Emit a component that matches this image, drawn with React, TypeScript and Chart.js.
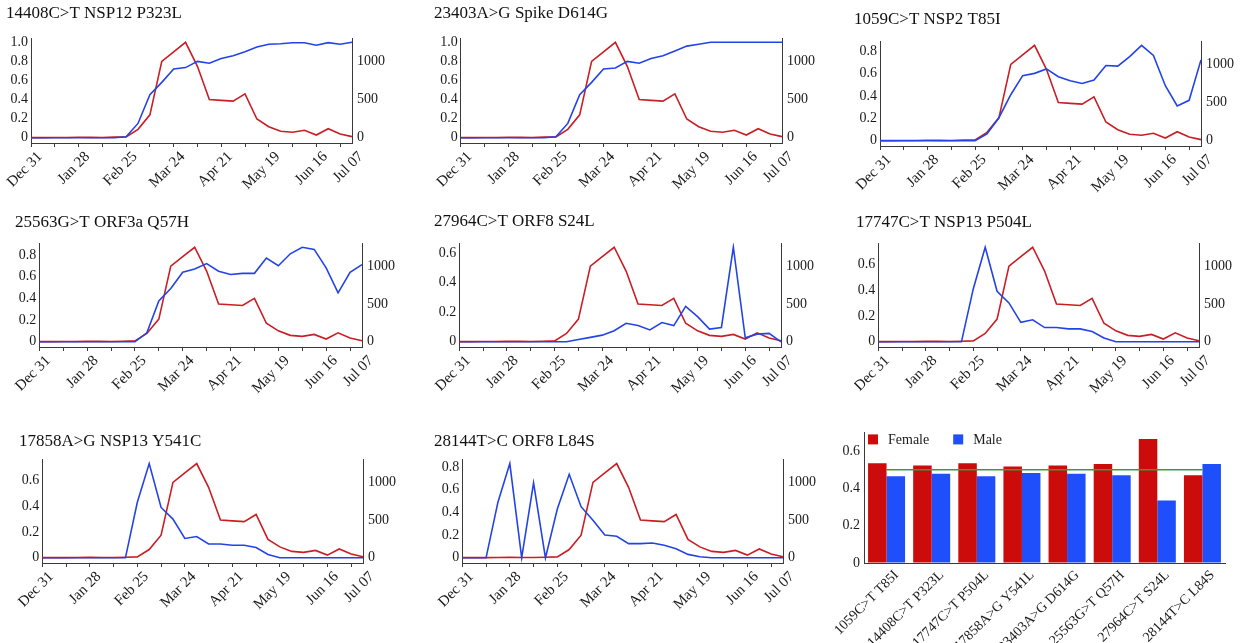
import React, { useEffect, useRef } from "react";
import { Chart, registerables } from "chart.js";
Chart.register(...registerables);

// ---------- data ----------
const WEEKS = [
  "Dec 31", "Jan 07", "Jan 14", "Jan 21", "Jan 28", "Feb 04", "Feb 11", "Feb 18",
  "Feb 25", "Mar 03", "Mar 10", "Mar 17", "Mar 24", "Mar 31", "Apr 07", "Apr 14",
  "Apr 21", "Apr 28", "May 05", "May 12", "May 19", "May 26", "Jun 02", "Jun 09",
  "Jun 16", "Jun 23", "Jun 30", "Jul 07",
];
const SHOWN_WEEK_LABELS = ["Dec 31", "Jan 28", "Feb 25", "Mar 24", "Apr 21", "May 19", "Jun 16", "Jul 07"];

// weekly number of sequences (right axis, red)
const CASE_COUNTS = [
  2, 2, 3, 4, 6, 5, 4, 8, 12, 110, 300, 1000, 1125, 1250, 935, 500,
  490, 480, 575, 245, 145, 85, 72, 98, 36, 118, 50, 15,
];

// weekly mutation frequency (left axis, blue)
const FREQ_14408 = [0, 0, 0, 0, 0, 0, 0, 0, 0.01, 0.15, 0.45, 0.58, 0.72, 0.735, 0.8, 0.78, 0.83, 0.86, 0.9, 0.95, 0.98, 0.985, 0.996, 0.996, 0.97, 0.996, 0.98, 1.0];
const FREQ_23403 = [0, 0, 0, 0, 0, 0, 0, 0, 0.01, 0.15, 0.45, 0.58, 0.72, 0.73, 0.8, 0.78, 0.83, 0.86, 0.91, 0.96, 0.98, 1.0, 1.0, 1.0, 1.0, 1.0, 1.0, 1.0];
const FREQ_1059 = [0, 0, 0, 0, 0, 0, 0, 0, 0, 0.06, 0.205, 0.41, 0.58, 0.6, 0.64, 0.57, 0.535, 0.51, 0.54, 0.67, 0.665, 0.75, 0.85, 0.76, 0.49, 0.31, 0.36, 0.72];
const FREQ_25563 = [0, 0, 0, 0, 0, 0, 0, 0, 0, 0.083, 0.375, 0.49, 0.64, 0.67, 0.72, 0.65, 0.62, 0.63, 0.63, 0.77, 0.7, 0.81, 0.87, 0.85, 0.68, 0.45, 0.64, 0.71];
const FREQ_27964 = [0, 0, 0, 0, 0, 0, 0, 0, 0, 0, 0.016, 0.03, 0.045, 0.075, 0.125, 0.11, 0.08, 0.13, 0.11, 0.24, 0.17, 0.086, 0.097, 0.64, 0.027, 0.052, 0.057, 0];
const FREQ_17747 = [0, 0, 0, 0, 0, 0, 0, 0, 0.41, 0.73, 0.39, 0.3, 0.15, 0.17, 0.11, 0.11, 0.1, 0.1, 0.08, 0.03, 0, 0, 0, 0, 0, 0, 0, 0];
const FREQ_17858 = [0, 0, 0, 0, 0, 0, 0, 0, 0.43, 0.73, 0.39, 0.3, 0.15, 0.165, 0.107, 0.107, 0.097, 0.097, 0.08, 0.026, 0, 0, 0, 0, 0, 0, 0, 0];
const FREQ_28144 = [0, 0, 0, 0.49, 0.83, 0, 0.66, 0, 0.43, 0.735, 0.45, 0.33, 0.2, 0.19, 0.125, 0.125, 0.13, 0.11, 0.08, 0.03, 0.01, 0, 0, 0, 0, 0, 0, 0];

const LEFT_TICKS_10 = [0, 0.2, 0.4, 0.6, 0.8, 1.0];
const LEFT_TICKS_08 = [0, 0.2, 0.4, 0.6, 0.8];
const LEFT_TICKS_06 = [0, 0.2, 0.4, 0.6];
const RIGHT_TICKS = [0, 500, 1000];

const BAR_CATEGORIES = [
  "1059C>T T85I", "14408C>T P323L", "17747C>T P504L", "17858A>G Y541L",
  "23403A>G D614G", "25563G>T Q57H", "27964C>T S24L", "28144T>C L84S",
];
const FEMALE_SHARE = [0.535, 0.522, 0.535, 0.517, 0.522, 0.53, 0.665, 0.47];
const MALE_SHARE = [0.465, 0.478, 0.465, 0.483, 0.478, 0.47, 0.335, 0.53];
const PARITY_LINE = [0.5, 0.5, 0.5, 0.5, 0.5, 0.5, 0.5, 0.5];
const BAR_TICKS = [0, 0.2, 0.4, 0.6];

// ---------- styles ----------
const FONT = '"Liberation Serif", "Times New Roman", serif';
const RED = "#c81e24";
const BLUE = "#2443e6";
const AXIS = "#3a3a3a";
const TEXT = "#1a1a1a";
const BAR_RED = "#cc0b0b";
const BAR_BLUE = "#1f4ffb";
const GREEN = "#3c9a3c";

type PanelSpec = {
  title: string;
  freq: number[];
  leftTicks: number[];
  titleLeft: number;
  capTop: number;
  axisLeft: number;
  axisRight: number;
  plotTop: number;
  plotBottom: number;
};

const PANELS: PanelSpec[] = [
  { title: "14408C>T NSP12 P323L", freq: FREQ_14408, leftTicks: LEFT_TICKS_10, titleLeft: 7, capTop: 8.3, axisLeft: 31, axisRight: 352, plotTop: 38, plotBottom: 143 },
  { title: "23403A>G Spike D614G", freq: FREQ_23403, leftTicks: LEFT_TICKS_10, titleLeft: 435, capTop: 8.3, axisLeft: 460.7, axisRight: 781.7, plotTop: 38, plotBottom: 143 },
  { title: "1059C>T NSP2 T85I", freq: FREQ_1059, leftTicks: LEFT_TICKS_08, titleLeft: 855, capTop: 14, axisLeft: 880, axisRight: 1201, plotTop: 41, plotBottom: 146 },
  { title: "25563G>T ORF3a Q57H", freq: FREQ_25563, leftTicks: LEFT_TICKS_08, titleLeft: 16, capTop: 216.7, axisLeft: 39.3, axisRight: 361.7, plotTop: 243, plotBottom: 346.7 },
  { title: "27964C>T ORF8 S24L", freq: FREQ_27964, leftTicks: LEFT_TICKS_06, titleLeft: 435, capTop: 215.5, axisLeft: 459.3, axisRight: 781, plotTop: 243, plotBottom: 346.7 },
  { title: "17747C>T NSP13 P504L", freq: FREQ_17747, leftTicks: LEFT_TICKS_06, titleLeft: 856.7, capTop: 216.7, axisLeft: 878.3, axisRight: 1199.3, plotTop: 243, plotBottom: 346.7 },
  { title: "17858A>G NSP13 Y541C", freq: FREQ_17858, leftTicks: LEFT_TICKS_06, titleLeft: 20, capTop: 435.5, axisLeft: 42.3, axisRight: 363.3, plotTop: 459.3, plotBottom: 563.3 },
  { title: "28144T>C ORF8 L84S", freq: FREQ_28144, leftTicks: LEFT_TICKS_08, titleLeft: 435, capTop: 435.5, axisLeft: 462.3, axisRight: 783.3, plotTop: 459.3, plotBottom: 563.3 },
];

const X_AXIS_H = 48;
const RIGHT_AXIS_W = 45;

function LinePanel({ p }: { p: PanelSpec }) {
  const ref = useRef<HTMLCanvasElement>(null);
  const canvasLeft = Math.round(p.titleLeft - 3);
  const canvasTop = Math.round(p.capTop - 8);
  const width = Math.round(p.axisRight + RIGHT_AXIS_W - canvasLeft);
  const height = Math.round(p.plotBottom + X_AXIS_H - canvasTop);

  useEffect(() => {
    const bMax = Math.max(...p.freq);
    const rMax = Math.max(...CASE_COUNTS);
    const leftW = p.axisLeft - canvasLeft - 2;
    const padBottom = p.plotTop - canvasTop - 3.3 - 20.4;
    const tickFont = { family: FONT, size: 14 };
    const chart = new Chart(ref.current as HTMLCanvasElement, {
      type: "line",
      data: {
        labels: WEEKS,
        datasets: [
          {
            label: "Frequency",
            data: p.freq,
            yAxisID: "yL",
            borderColor: BLUE,
            borderWidth: 1.6,
            pointRadius: 0,
            tension: 0,
            fill: false,
          },
          {
            label: "Sequences",
            data: CASE_COUNTS,
            yAxisID: "yR",
            borderColor: RED,
            borderWidth: 1.6,
            pointRadius: 0,
            tension: 0,
            fill: false,
          },
        ],
      },
      options: {
        animation: false,
        responsive: false,
        maintainAspectRatio: false,
        events: [],
        layout: { padding: { left: 2, right: 0, top: 0, bottom: 0 } },
        plugins: {
          legend: { display: false },
          tooltip: { enabled: false },
          title: {
            display: true,
            text: p.title,
            align: "start",
            color: "#111",
            font: { family: FONT, size: 17, weight: "normal" },
            padding: { top: 3.3, bottom: padBottom },
          },
        },
        scales: {
          x: {
            type: "category",
            offset: false,
            grid: {
              display: true,
              drawOnChartArea: false,
              drawTicks: true,
              tickLength: 4,
              tickColor: (c: any) => (c.index % 2 === 0 ? AXIS : "rgba(0,0,0,0)"),
            },
            border: { display: true, color: AXIS, width: 1 },
            ticks: {
              autoSkip: false,
              maxRotation: 45,
              minRotation: 45,
              padding: 1,
              labelOffset: 9,
              color: TEXT,
              font: { family: FONT, size: 15 },
              callback: (_v: any, i: number) => (SHOWN_WEEK_LABELS.includes(WEEKS[i]) ? WEEKS[i] : ""),
            },
            afterFit: (s: any) => {
              s.height = X_AXIS_H;
              s.paddingLeft = 0;
              s.paddingRight = 0;
            },
          },
          yL: {
            type: "linear",
            position: "left",
            min: -0.055 * bMax,
            max: 1.045 * bMax,
            grid: { display: true, drawOnChartArea: false, drawTicks: false },
            border: { display: true, color: AXIS, width: 1 },
            ticks: {
              padding: 3,
              color: TEXT,
              font: tickFont,
              callback: (v: any) => (Number(v) === 0 ? "0" : Number(v).toFixed(1)),
            },
            afterBuildTicks: (s: any) => {
              s.ticks = p.leftTicks.map((v) => ({ value: v }));
            },
            afterFit: (s: any) => {
              s.width = leftW;
            },
          },
          yR: {
            type: "linear",
            position: "right",
            min: -0.055 * rMax,
            max: 1.045 * rMax,
            grid: { display: true, drawOnChartArea: false, drawTicks: false },
            border: { display: true, color: AXIS, width: 1 },
            ticks: {
              padding: 5,
              color: TEXT,
              font: tickFont,
              callback: (v: any) => String(v),
            },
            afterBuildTicks: (s: any) => {
              s.ticks = RIGHT_TICKS.map((v) => ({ value: v }));
            },
            afterFit: (s: any) => {
              s.width = RIGHT_AXIS_W;
            },
          },
        },
      } as any,
    });
    return () => chart.destroy();
  }, []);

  return (
    <canvas
      ref={ref}
      width={width}
      height={height}
      style={{ position: "absolute", left: canvasLeft, top: canvasTop, width, height }}
    />
  );
}

const insideLegend = {
  id: "insideLegend",
  afterDraw(chart: any) {
    const { ctx, chartArea } = chart;
    ctx.save();
    ctx.font = `14px ${FONT}`;
    ctx.textBaseline = "middle";
    ctx.textAlign = "left";
    let x = chartArea.left + 4;
    const y = chartArea.top + 2;
    chart.data.datasets.forEach((ds: any) => {
      if (ds.type === "line") return;
      ctx.fillStyle = ds.backgroundColor;
      ctx.fillRect(x, y, 10, 10);
      ctx.fillStyle = TEXT;
      ctx.fillText(ds.label, x + 20, y + 5.5);
      x += 20 + ctx.measureText(ds.label).width + 24;
    });
    ctx.restore();
  },
};

function BarPanel() {
  const ref = useRef<HTMLCanvasElement>(null);
  const left = 832;
  const top = 420;
  const width = 405;
  const height = 223;
  useEffect(() => {
    const chart = new Chart(ref.current as HTMLCanvasElement, {
      type: "bar",
      data: {
        labels: BAR_CATEGORIES,
        datasets: [
          {
            type: "line",
            label: "0.5",
            data: PARITY_LINE,
            borderColor: GREEN,
            borderWidth: 1.5,
            pointRadius: 0,
            order: 0,
          },
          {
            type: "bar",
            label: "Female",
            data: FEMALE_SHARE,
            backgroundColor: BAR_RED,
            barPercentage: 1,
            categoryPercentage: 0.82,
            order: 1,
          },
          {
            type: "bar",
            label: "Male",
            data: MALE_SHARE,
            backgroundColor: BAR_BLUE,
            barPercentage: 1,
            categoryPercentage: 0.82,
            order: 1,
          },
        ],
      } as any,
      options: {
        animation: false,
        responsive: false,
        maintainAspectRatio: false,
        events: [],
        layout: { padding: { left: 0, right: 12, top: 10, bottom: 0 } },
        plugins: { legend: { display: false }, tooltip: { enabled: false } },
        scales: {
          x: {
            type: "category",
            offset: true,
            grid: { display: true, drawOnChartArea: false, drawTicks: false },
            border: { display: true, color: AXIS, width: 1 },
            ticks: {
              autoSkip: false,
              maxRotation: 45,
              minRotation: 45,
              padding: 4,
              labelOffset: 10,
              color: TEXT,
              font: { family: FONT, size: 14 },
            },
            afterFit: (s: any) => {
              s.height = 80;
              s.paddingLeft = 0;
              s.paddingRight = 0;
            },
          },
          y: {
            type: "linear",
            min: 0,
            max: 0.7,
            grid: { display: true, drawOnChartArea: false, drawTicks: false },
            border: { display: true, color: AXIS, width: 1 },
            ticks: {
              padding: 4,
              color: TEXT,
              font: { family: FONT, size: 14 },
              callback: (v: any) => (Number(v) === 0 ? "0" : Number(v).toFixed(1)),
            },
            afterBuildTicks: (s: any) => {
              s.ticks = BAR_TICKS.map((v) => ({ value: v }));
            },
            afterFit: (s: any) => {
              s.width = 32;
            },
          },
        },
      } as any,
      plugins: [insideLegend],
    });
    return () => chart.destroy();
  }, []);
  return (
    <canvas
      ref={ref}
      width={width}
      height={height}
      style={{ position: "absolute", left, top, width, height }}
    />
  );
}

export default function App() {
  return (
    <div
      style={{
        position: "absolute",
        left: 0,
        top: 0,
        width: 1247,
        height: 643,
        background: "#ffffff",
        overflow: "hidden",
      }}
    >
      {PANELS.map((p) => (
        <LinePanel key={p.title} p={p} />
      ))}
      <BarPanel />
    </div>
  );
}
